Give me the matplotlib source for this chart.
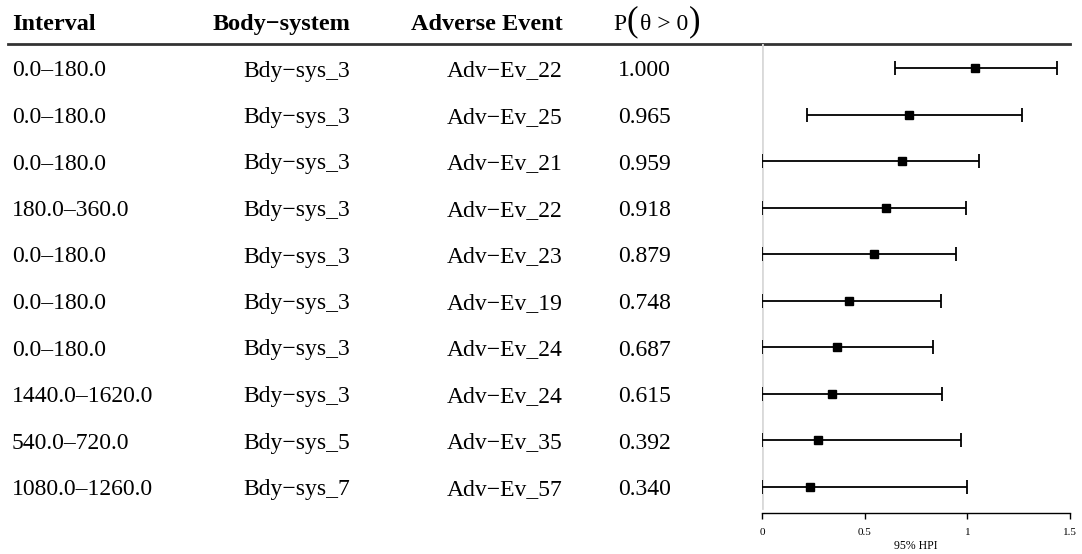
import numpy as np
import matplotlib
matplotlib.use("Agg")
import matplotlib.pyplot as plt

plt.rcParams["font.family"] = ["Liberation Serif", "DejaVu Serif"]

# table columns
intervals = ["0.0–180.0", "0.0–180.0", "0.0–180.0", "180.0–360.0", "0.0–180.0",
             "0.0–180.0", "0.0–180.0", "1440.0–1620.0", "540.0–720.0", "1080.0–1260.0"]
body_systems = ["Bdy−sys_3"] * 8 + ["Bdy−sys_5", "Bdy−sys_7"]
events = ["Adv−Ev_22", "Adv−Ev_25", "Adv−Ev_21", "Adv−Ev_22", "Adv−Ev_23",
          "Adv−Ev_19", "Adv−Ev_24", "Adv−Ev_24", "Adv−Ev_35", "Adv−Ev_57"]
prob_pos = [1.000, 0.965, 0.959, 0.918, 0.879, 0.748, 0.687, 0.615, 0.392, 0.340]

# posterior mean and 95% HPI
mean = [1.037, 0.716, 0.682, 0.606, 0.547, 0.422, 0.367, 0.341, 0.271, 0.234]
lower = [0.650, 0.218, 0.0, 0.0, 0.0, 0.0, 0.0, 0.0, 0.0, 0.0]
upper = [1.435, 1.268, 1.057, 0.995, 0.945, 0.872, 0.835, 0.878, 0.968, 0.997]

xticks = [0, 0.5, 1, 1.5]

W, H = 1082, 554
fig = plt.figure(figsize=(W / 100, H / 100), dpi=100)

top_px, bot_px = 44, 513
row0_px, step_px = 68, 46.5
ytop = -(row0_px - top_px) / step_px
ybot = (len(mean) - 1) + (bot_px - (row0_px + step_px * (len(mean) - 1))) / step_px

ax_t = fig.add_axes([0, 1 - bot_px / H, 1, (bot_px - top_px) / H])
ax_t.set_xlim(0, W)
ax_t.set_ylim(ybot, ytop)
ax_t.axis("off")

ax = fig.add_axes([762 / W, 1 - bot_px / H, (1070 - 762) / W, (bot_px - top_px) / H],
                  sharey=ax_t)
ax.patch.set_alpha(0)

rows = np.arange(len(mean))
fs = 17
base = 8.5 / step_px                 # baseline offset below row centre
head_y = (30 - row0_px) / step_px    # header baseline
va = "baseline"

# headers
ax_t.text(12, head_y, "Interval", fontsize=17.5, fontweight="bold", va=va, ha="left")
ax_t.text(350, head_y, "Body−system", fontsize=17.5, fontweight="bold", va=va, ha="right")
ax_t.text(563, head_y, "Adverse Event", fontsize=17.5, fontweight="bold", va=va, ha="right")
ax_t.text(613, head_y, "P", fontsize=fs, va=va, ha="left")
ax_t.text(626, head_y, "(", fontsize=25, va=va, ha="left")
ax_t.text(640, head_y, "θ > 0", fontsize=fs, va=va, ha="left")
ax_t.text(689, head_y, ")", fontsize=25, va=va, ha="left")
ax_t.axhline(ytop, xmin=8 / W, xmax=1070 / W, color="#333333", lw=2, clip_on=False)

# table body
for i in rows:
    y = i + base
    ax_t.text(12, y, intervals[i], fontsize=fs, va=va, ha="left")
    ax_t.text(350, y, body_systems[i], fontsize=fs, va=va, ha="right")
    ax_t.text(563, y, events[i], fontsize=fs, va=va, ha="right")
    ax_t.text(618, y, f"{prob_pos[i]:.3f}", fontsize=fs, va=va, ha="left")

# forest part
ax.axvline(0, ymin=0.01, ymax=1, color="#d9d9d9", lw=2, zorder=1)
mean_a = np.array(mean)
ax.errorbar(mean_a, rows, xerr=[mean_a - np.array(lower), np.array(upper) - mean_a],
            fmt="none", ecolor="black", elinewidth=1.3, capsize=5, capthick=1.3, zorder=2)
ax.plot(mean, rows, "s", color="black", markersize=5.5, zorder=3)

ax.set_xlim(0, 1.5)
ax.set_xticks(xticks)
ax.set_xticklabels(["0", "0.5", "1", "1.5"], fontsize=8)
ax.tick_params(axis="x", length=4, width=1, pad=7)
ax.tick_params(axis="y", left=False, labelleft=False)
for s in ["top", "right", "left"]:
    ax.spines[s].set_visible(False)
ax.spines["bottom"].set_linewidth(1)
ax.set_xlabel("95% HPI", fontsize=8.5, labelpad=2)

fig.savefig("out.png", dpi=100)
